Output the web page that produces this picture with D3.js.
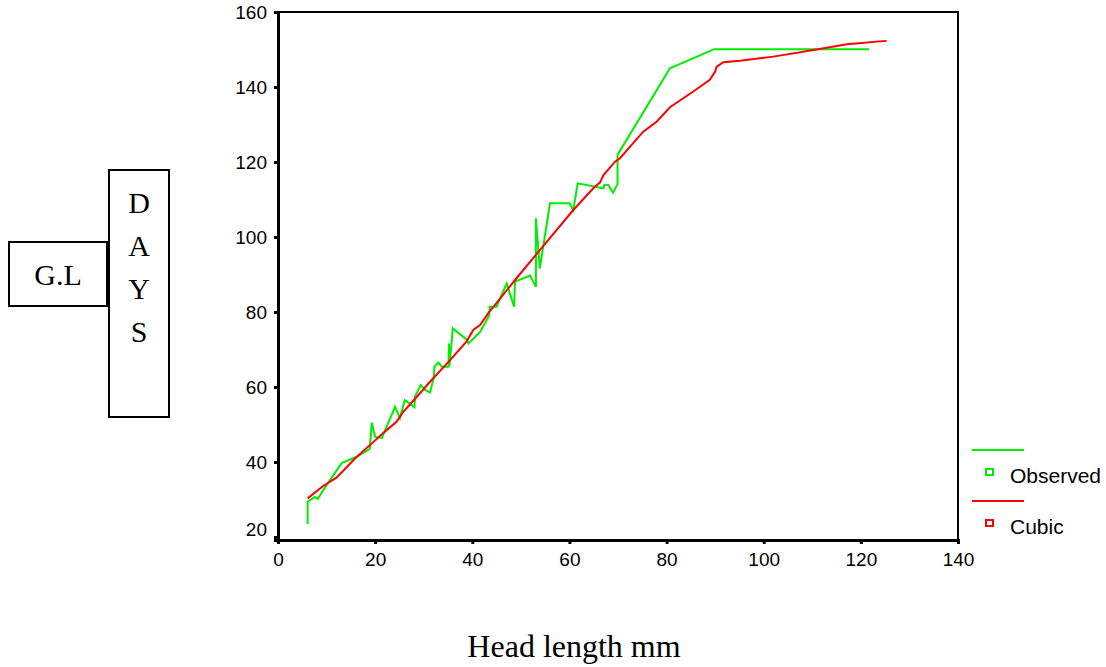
<!DOCTYPE html>
<html>
<head>
<meta charset="utf-8">
<script src="https://cdn.jsdelivr.net/npm/d3@7"></script>
<style>
  body { margin: 0; background: #fff; }
  .axis text { font-family: Arial, "Liberation Sans", sans-serif; font-size: 19px; fill: #000; }
  .serif { font-family: "Liberation Serif", "Times New Roman", serif; fill: #000; }
</style>
</head>
<body>
<svg id="chart"></svg>
<script>
// observed head length (mm) vs days
const obsX = [6.1, 6.1, 7.6, 8.2, 9.3, 13.1, 16.2, 18.9, 19.3, 20.0, 21.4, 24.1, 25.1, 26.1, 27.0, 28.1,
  28.2, 29.4, 30.3, 31.3, 32.1, 32.2, 33.0, 33.7, 35.1, 35.2, 35.3, 36.0, 38.8, 39.2, 41.6, 42.6,
  43.5, 43.6, 45.0, 45.5, 47.1, 48.6, 48.8, 51.9, 53.1, 53.1, 53.9, 56.0, 60.0, 60.8, 61.7, 67.0,
  67.2, 68.0, 69.0, 69.9, 69.9, 80.7, 89.8, 121.7];
const obsY = [23.5, 29.4, 30.7, 30.1, 32.5, 39.7, 41.4, 43.5, 50.5, 46.7, 46.4, 54.7, 51.7, 56.5, 55.7, 54.6,
  57.4, 60.5, 59.2, 58.5, 62.7, 65.4, 66.5, 65.4, 65.4, 71.6, 65.7, 75.6, 72.7, 71.6, 74.7, 77.0,
  79.2, 81.4, 81.4, 83.0, 87.6, 81.4, 88.1, 89.7, 86.7, 105.0, 91.6, 109.0, 109.0, 107.2, 114.3, 113.0,
  113.9, 113.9, 111.8, 114.1, 121.9, 145.0, 150.1, 150.1];

// cubic fit
const cubicX = [6.1, 9.3, 12.1, 15.9, 19.6, 22.0, 24.4, 25.8, 28.6, 31.3, 35.1, 38.8, 40.2, 41.6, 43.3,
  49.1, 53.9, 60.8, 65.2, 66.3, 67.0, 69.4, 70.4, 75.2, 78.0, 80.7, 85.5, 88.9, 90.0, 90.3, 91.7,
  95.1, 102.0, 110.9, 117.1, 123.3, 125.3];
const cubicY = [30.3, 33.6, 35.9, 41.0, 45.3, 48.1, 50.7, 53.4, 57.4, 61.4, 66.7, 72.1, 75.2, 76.5, 79.7,
  89.0, 96.5, 107.2, 113.4, 114.5, 116.5, 120.1, 121.0, 128.1, 130.8, 134.6, 138.8, 141.9, 144.1, 145.4, 146.6,
  147.0, 148.1, 150.0, 151.4, 152.1, 152.3];

const xTicks = [0, 20, 40, 60, 80, 100, 120, 140];
const yTicks = [20, 40, 60, 80, 100, 120, 140, 160];
const legendItems = [
  { label: 'Observed', color: '#00ee00' },
  { label: 'Cubic', color: '#ff0000' }
];
const daysLetters = ['D', 'A', 'Y', 'S'];

const W = 1106, H = 667;
const plot = { left: 278, right: 958, top: 12, bottom: 540 };

const svg = d3.select('#chart').attr('width', W).attr('height', H);
svg.append('rect').attr('width', W).attr('height', H).attr('fill', '#fff');

const x = d3.scaleLinear().domain([0, 140]).range([plot.left, plot.right]);
const y = d3.scaleLinear().domain([19.2, 160]).range([plot.bottom, plot.top]);

// frame
svg.append('rect')
  .attr('x', plot.left).attr('y', plot.top)
  .attr('width', plot.right - plot.left).attr('height', plot.bottom - plot.top)
  .attr('fill', 'none').attr('stroke', '#000').attr('stroke-width', 2);

// axes
const yAxis = svg.append('g').attr('class', 'axis')
  .attr('transform', `translate(${plot.left},0)`)
  .call(d3.axisLeft(y).tickValues(yTicks).tickSize(4).tickPadding(7));
yAxis.selectAll('.tick line').attr('stroke-width', 3);
yAxis.select('.domain').attr('stroke-width', 3);
// the 20 label sits a bit higher, clear of the x axis
yAxis.selectAll('.tick text').filter(d => d === 20).attr('dy', '-0.1em');

const xAxis = svg.append('g').attr('class', 'axis')
  .attr('transform', `translate(0,${plot.bottom})`)
  .call(d3.axisBottom(x).tickValues(xTicks).tickSize(4).tickPadding(9));
xAxis.selectAll('.tick line').attr('stroke-width', 3);
xAxis.select('.domain').attr('stroke-width', 3);

// lines
const obs = obsX.map((v, i) => [v, obsY[i]]);
const cub = cubicX.map((v, i) => [v, cubicY[i]]);
const line = d3.line().x(d => x(d[0])).y(d => y(d[1]));

svg.append('path').datum(obs)
  .attr('d', line).attr('fill', 'none')
  .attr('stroke', legendItems[0].color).attr('stroke-width', 2);

svg.append('path').datum(cub)
  .attr('d', line).attr('fill', 'none')
  .attr('stroke', legendItems[1].color).attr('stroke-width', 2);

// legend
const leg = svg.append('g').attr('transform', 'translate(972,450)');
legendItems.forEach((d, i) => {
  const g = leg.append('g').attr('transform', `translate(0,${i * 51})`);
  g.append('line').attr('x1', 0).attr('x2', 52).attr('y1', 0).attr('y2', 0)
    .attr('stroke', d.color).attr('stroke-width', 2);
  g.append('rect').attr('x', 14).attr('y', 19).attr('width', 7).attr('height', 6)
    .attr('fill', 'none').attr('stroke', d.color).attr('stroke-width', 2);
  g.append('text').attr('x', 38).attr('y', 33)
    .style('font-family', 'Arial, "Liberation Sans", sans-serif').style('font-size', '21px')
    .text(d.label);
});

// left label boxes
svg.append('rect').attr('x', 9).attr('y', 242).attr('width', 98).attr('height', 64)
  .attr('fill', 'none').attr('stroke', '#000').attr('stroke-width', 2);
svg.append('text').attr('class', 'serif').attr('x', 58).attr('y', 285)
  .attr('text-anchor', 'middle').style('font-size', '30px').text('G.L');

svg.append('rect').attr('x', 109).attr('y', 170).attr('width', 60).attr('height', 247)
  .attr('fill', 'none').attr('stroke', '#000').attr('stroke-width', 2);
daysLetters.forEach((c, i) => {
  svg.append('text').attr('class', 'serif').attr('x', 139).attr('y', 213 + i * 43)
    .attr('text-anchor', 'middle').style('font-size', '30px').text(c);
});

// x title
svg.append('text').attr('class', 'serif').attr('x', 574).attr('y', 657)
  .attr('text-anchor', 'middle').style('font-size', '32px').text('Head length mm');
</script>
</body>
</html>
